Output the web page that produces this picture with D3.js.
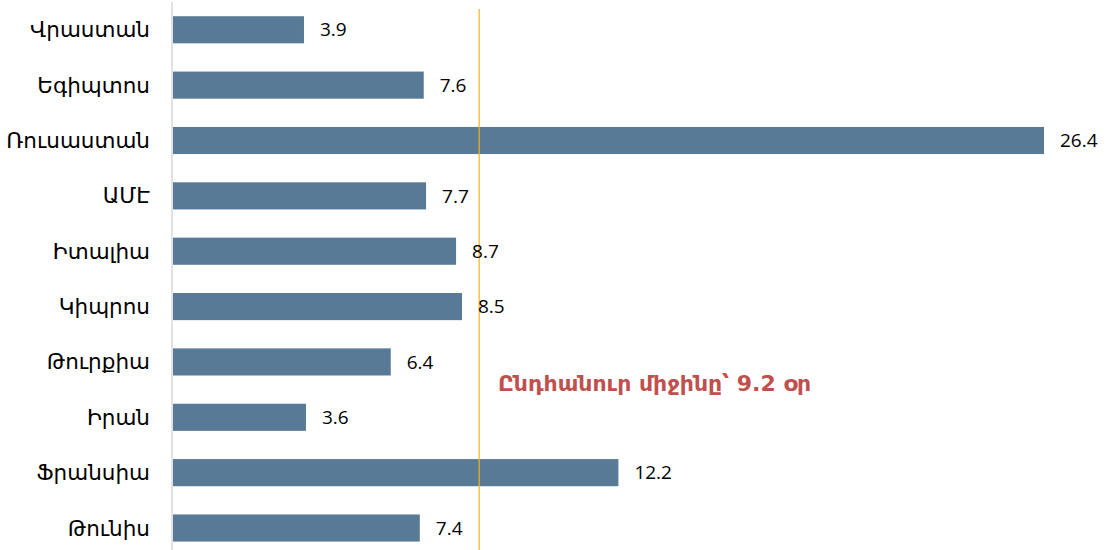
<!DOCTYPE html>
<html>
<head>
<meta charset="utf-8">
<script src="https://cdn.jsdelivr.net/npm/d3@7"></script>
<style>
  body { margin: 0; background: #fff; }
  svg { display: block; }
</style>
</head>
<body>
<script>
	var w = 1106;
	var h = 550;

	// categories top to bottom
	var countries = ["Վրաստան","Եգիպտոս","Ռուսաստան","ԱՄԷ","Իտալիա","Կիպրոս","Թուրքիա","Իրան","Ֆրանսիա","Թունիս"];
	// bar lengths as drawn in the picture
	var barValues = [3.97,7.6,26.4,7.67,8.58,8.76,6.6,4.03,13.5,7.48];
	// data labels as printed
	var valueLabels = ["3.9","7.6","26.4","7.7","8.7","8.5","6.4","3.6","12.2","7.4"];
	var meanValue = 9.28;
	var meanText = "Ընդհանուր միջինը՝ 9.2 օր";

	var x0 = 173;

	var xScale = d3.scaleLinear()
					.domain([0, 26.4])
					.range([x0, 1044]);

	var yScale = d3.scaleBand()
					.domain(countries)
					.range([2.1, 555.7])
					.paddingInner(0.51)
					.paddingOuter(0.255);

	var svg = d3.select("body")
				.append("svg")
				.attr("width", w)
				.attr("height", h);

	// bars
	svg.selectAll("rect.bar")
		.data(barValues)
		.enter()
		.append("rect")
		.attr("class", "bar")
		.attr("x", xScale(0))
		.attr("y", function(d, i){ return yScale(countries[i]); })
		.attr("width", function(d){ return xScale(d) - xScale(0); })
		.attr("height", yScale.bandwidth())
		.attr("fill", "#587a96");

	// vertical axis line
	svg.append("line")
		.attr("x1", x0 - 1).attr("x2", x0 - 1)
		.attr("y1", 2).attr("y2", h)
		.attr("stroke", "#d9d9d9")
		.attr("stroke-width", 1.5);

	// category labels
	svg.selectAll("text.cat")
		.data(countries)
		.enter()
		.append("text")
		.attr("class", "cat")
		.attr("x", 150)
		.attr("y", function(d){ return yScale(d) + yScale.bandwidth()/2; })
		.attr("dy", "0.35em")
		.attr("text-anchor", "end")
		.attr("font-family", "'DejaVu Sans', sans-serif")
		.attr("font-size", "21.5px")
		.attr("fill", "#000")
		.text(function(d){ return d; });

	// mean line
	svg.append("line")
		.attr("x1", xScale(meanValue)).attr("x2", xScale(meanValue))
		.attr("y1", 9).attr("y2", h)
		.attr("stroke", "#f2b418")
		.attr("stroke-width", 1.2);

	// value labels
	svg.selectAll("text.val")
		.data(barValues)
		.enter()
		.append("text")
		.attr("class", "val")
		.attr("x", function(d){ return xScale(d) + 16; })
		.attr("y", function(d, i){ return yScale(countries[i]) + yScale.bandwidth()/2; })
		.attr("dy", "0.35em")
		.attr("font-family", "'Open Sans', 'Liberation Sans', sans-serif")
		.attr("font-size", "19px")
		.attr("fill", "#000")
		.text(function(d, i){ return valueLabels[i]; });

	// mean annotation
	svg.append("text")
		.attr("x", 498)
		.attr("y", 391)
		.attr("font-family", "'DejaVu Sans', sans-serif")
		.attr("font-size", "22px")
		.attr("font-weight", "bold")
		.attr("fill", "#c0504d")
		.text(meanText);
</script>
</body>
</html>
